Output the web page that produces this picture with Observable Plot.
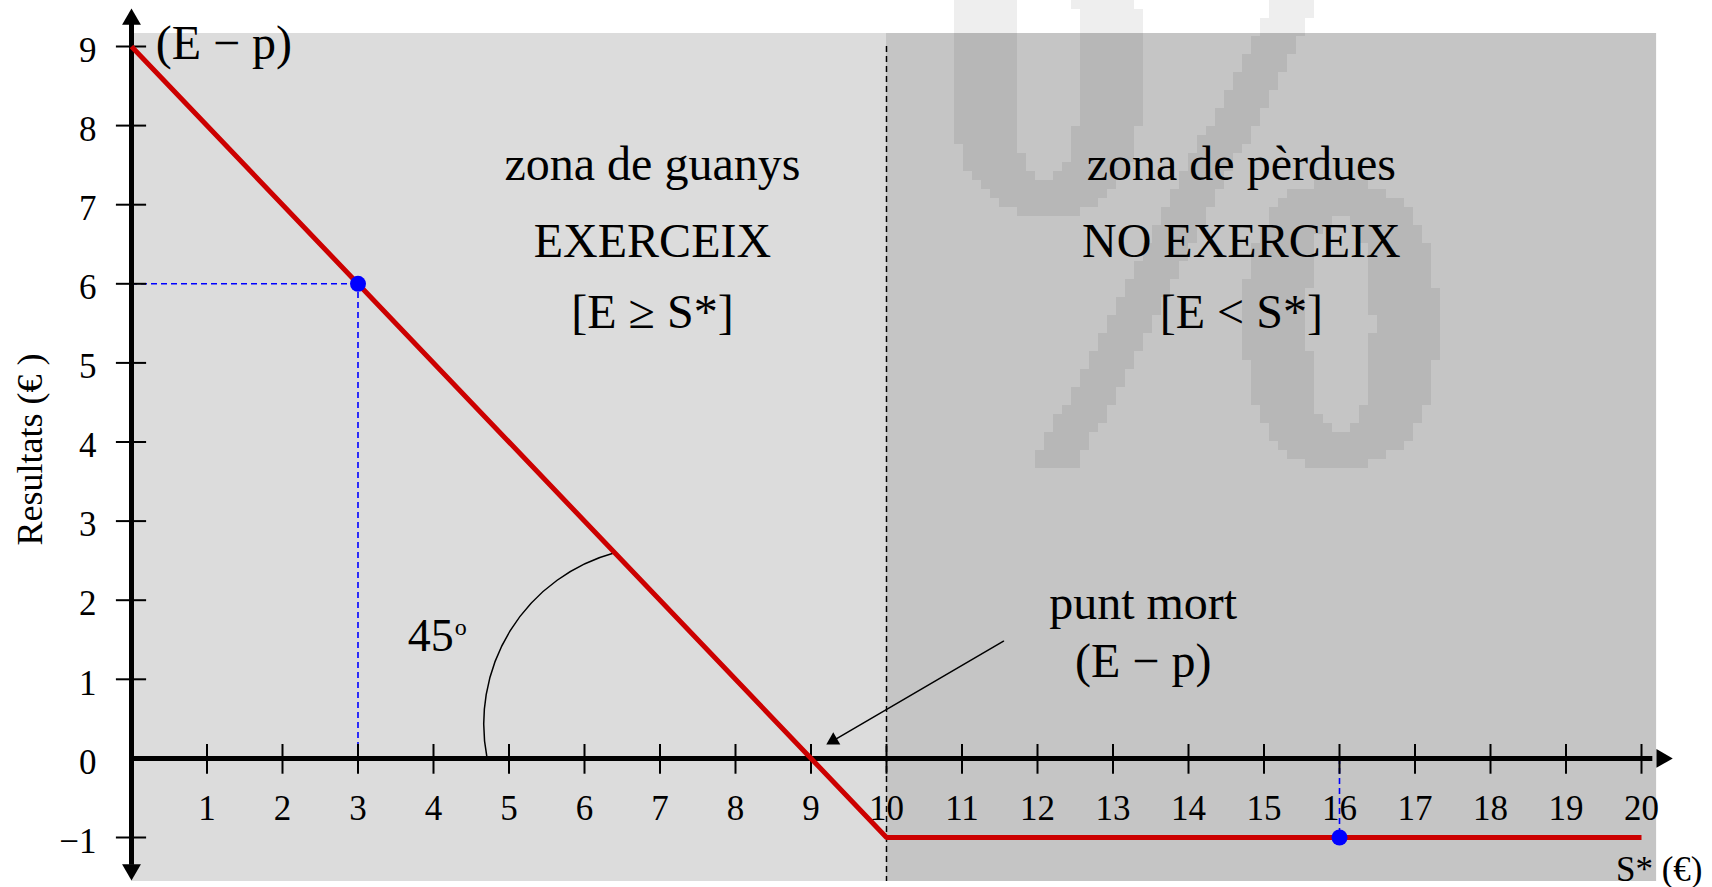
<!DOCTYPE html>
<html>
<head>
<meta charset="utf-8">
<script src="https://cdn.jsdelivr.net/npm/d3@7"></script>
<script src="https://cdn.jsdelivr.net/npm/@observablehq/plot@0.6"></script>
<style>
  html, body { margin: 0; padding: 0; background: #ffffff; }
  #chart svg { display: block; }
</style>
</head>
<body>
<div id="chart"></div>
<script>
// Long put at expiry: result (€) as a function of the spot price S* (€)
const spotPrices = [0, 10, 20];   // S* (€)
const payoff     = [9, -1, -1];   // Resultats (€)

// highlighted points on the payoff line
const markedSpot   = [3, 16];
const markedResult = [6, -1];

// tick values
const xTicks  = [1, 2, 3, 4, 5, 6, 7, 8, 9, 10, 11, 12, 13, 14, 15, 16, 17, 18, 19, 20];
const yTicks  = [-1, 1, 2, 3, 4, 5, 6, 7, 8, 9];
const yLabels = [-1, 0, 1, 2, 3, 4, 5, 6, 7, 8, 9];

// the two zones either side of the strike price
const zoneStart  = [0, 10];
const zoneEnd    = [10, 20.2];
const zoneTitle  = ["zona de guanys", "zona de pèrdues"];
const zoneAction = ["EXERCEIX", "NO EXERCEIX"];
const zoneRule   = ["[E ≥ S*]", "[E < S*]"];

const serif = "'Liberation Serif', 'Times New Roman', Times, serif";
const fmt = v => (v < 0 ? "\u2212" + (-v) : String(v));

const curve  = spotPrices.map((s, i) => ({s, r: payoff[i]}));
const marked = markedSpot.map((s, i) => ({s, r: markedResult[i]}));
const zones  = zoneStart.map((a, i) => ({a, b: zoneEnd[i], title: zoneTitle[i], action: zoneAction[i], rule: zoneRule[i]}));
const zoneLabelX = [6.9, 14.7];

// scale settings (shared with the watermark builder below)
const W = 1712, H = 887;
const xDomain = [0, 20], xRange = [131, 1641];
const yDomain = [-1, 9], yRange = [837, 46];

// Faint blocky "%" watermark: the glyph is rasterised on a coarse grid and
// each row of filled cells becomes one rect.
const BLOCK = 9;
function watermarkRuns() {
  const cols = Math.ceil(W / BLOCK), rows = Math.ceil(H / BLOCK);
  const canvas = document.createElement("canvas");
  canvas.width = cols;
  canvas.height = rows;
  const ctx = canvas.getContext("2d");
  ctx.scale(1 / BLOCK, 1 / BLOCK);
  const glyph = (ch, x0, y0, x1, y1) => {
    ctx.save();
    ctx.font = `bold 200px ${serif}`;
    const m = ctx.measureText(ch);
    const gw = m.actualBoundingBoxLeft + m.actualBoundingBoxRight;
    const gh = m.actualBoundingBoxAscent + m.actualBoundingBoxDescent;
    ctx.translate(x0, y0);
    ctx.scale((x1 - x0) / gw, (y1 - y0) / gh);
    ctx.fillStyle = "#000000";
    ctx.fillText(ch, m.actualBoundingBoxLeft, m.actualBoundingBoxAscent);
    ctx.restore();
  };
  glyph("%", 950, -85, 1440, 462);
  const data = ctx.getImageData(0, 0, cols, rows).data;
  const on = (r, c) => data[(r * cols + c) * 4 + 3] > 110;
  const px = d3.scaleLinear(xDomain, xRange), py = d3.scaleLinear(yDomain, yRange);
  const runs = [];
  for (let r = 0; r < rows; ++r) {
    for (let c = 0; c < cols; ) {
      if (!on(r, c)) { ++c; continue; }
      const c0 = c;
      while (c < cols && on(r, c)) ++c;
      runs.push({
        x1: px.invert(c0 * BLOCK), x2: px.invert(c * BLOCK),
        y1: py.invert(r * BLOCK), y2: py.invert((r + 1) * BLOCK)
      });
    }
  }
  return runs;
}

const chart = Plot.plot({
  width: W,
  height: H,
  marginTop: 33,
  marginBottom: 6,
  marginLeft: 0,
  marginRight: 0,
  style: {fontFamily: serif, background: "#ffffff", color: "#000000", overflow: "visible"},
  x: {domain: xDomain, range: xRange, axis: null},
  y: {domain: yDomain, range: yRange, axis: null},
  marks: [
    // zones
    Plot.rect([zones[0]], {x1: "a", x2: "b", fill: "#dcdcdc"}),
    Plot.rect([zones[1]], {x1: "a", x2: "b", fill: "#c5c5c5"}),

    // watermark
    Plot.rect(watermarkRuns(), {x1: "x1", x2: "x2", y1: "y1", y2: "y2", fill: "#000000", fillOpacity: 0.066, shapeRendering: "crispEdges"}),

    // strike price divider
    Plot.ruleX([10], {y1: 9, y2: -1.556, stroke: "#000000", strokeWidth: 1.5, strokeDasharray: "6,4"}),

    // zone annotations
    Plot.text(zones, {x: (d, i) => zoneLabelX[i], y: 7.306, text: "title", lineAnchor: "bottom", fontSize: 48}),
    Plot.text(zones, {x: (d, i) => zoneLabelX[i], y: 7.306, dy: 77, text: "action", lineAnchor: "bottom", fontSize: 48}),
    Plot.text(zones, {x: (d, i) => zoneLabelX[i], y: 7.306, dy: 148, text: "rule", lineAnchor: "bottom", fontSize: 48}),

    // dashed guides to the highlighted points
    Plot.ruleY(marked.filter(d => d.r > 0), {y: "r", x1: 0, x2: "s", stroke: "#0000ff", strokeWidth: 1.6, strokeDasharray: "6,4"}),
    Plot.ruleX(marked, {x: "s", y1: 0, y2: "r", stroke: "#0000ff", strokeWidth: 1.6, strokeDasharray: "6,4"}),

    // axes with arrowheads
    Plot.ruleY([0], {x1: 0, x2: 20.15, stroke: "#000000", strokeWidth: 5}),
    Plot.ruleX([0], {y1: -1.35, y2: 9.28, stroke: "#000000", strokeWidth: 5}),
    Plot.dot([{x: 20.27, y: 0, a: 90}, {x: 0, y: 9.343, a: 0}, {x: 0, y: -1.406, a: 180}],
      {x: "x", y: "y", rotate: "a", symbol: "triangle", r: 7, fill: "#000000", stroke: "none"}),
    Plot.ruleY(yTicks, {y: d => d, x1: -0.2, x2: 0.2, stroke: "#000000", strokeWidth: 2}),
    Plot.ruleX(xTicks, {x: d => d, y1: -0.2, y2: 0.176, stroke: "#000000", strokeWidth: 2}),
    Plot.text(yLabels, {x: 0, y: d => d, text: fmt, dx: -35, dy: 4, textAnchor: "end", fontSize: 35}),
    Plot.text(xTicks, {x: d => d, y: 0, text: fmt, dy: 62, lineAnchor: "bottom", fontSize: 35}),
    Plot.text(["Resultats (€ )"], {x: -1.19, y: 3.905, rotate: -90, lineAnchor: "bottom", fontSize: 36}),
    Plot.text(["S* (€)"], {frameAnchor: "bottom-right", dx: -10, dy: -1, textAnchor: "end", lineAnchor: "bottom", fontSize: 35}),

    // 45° angle marker
    Plot.arrow([0], {x1: 6.4, y1: 2.6, x2: 4.71, y2: 0, bend: -43, headLength: 0, stroke: "#000000", strokeWidth: 1.5}),
    Plot.text(["45"], {x: 3.66, y: 1.364, textAnchor: "start", lineAnchor: "bottom", fontSize: 46}),
    Plot.text(["o"], {x: 3.66, y: 1.364, dx: 47, dy: -16, textAnchor: "start", lineAnchor: "bottom", fontSize: 24}),

    // payoff line
    Plot.line(curve, {x: "s", y: "r", stroke: "#cc0000", strokeWidth: 5, strokeLinecap: "butt", strokeLinejoin: "miter"}),
    Plot.dot(marked, {x: "s", y: "r", r: 8, fill: "#0000ff", stroke: "none"}),

    // break-even annotation
    Plot.arrow([0], {x1: 11.55, y1: 1.482, x2: 9.3, y2: 0.228, headLength: 0, stroke: "#000000", strokeWidth: 1.5}),
    Plot.dot([0], {x: 9.295, y: 0.228, rotate: 239.8, symbol: "triangle", r: 5.2, fill: "#000000", stroke: "none"}),
    Plot.text(["punt mort"], {x: 13.4, y: 1.765, lineAnchor: "bottom", fontSize: 48}),
    Plot.text(["(E \u2212 p)"], {x: 13.4, y: 1.765, dy: 58, lineAnchor: "bottom", fontSize: 48}),

    // intercept label
    Plot.text(["(E \u2212 p)"], {x: 0.32, y: 9, dy: 12, textAnchor: "start", lineAnchor: "bottom", fontSize: 48})
  ]
});

document.getElementById("chart").appendChild(chart);
</script>
</body>
</html>
